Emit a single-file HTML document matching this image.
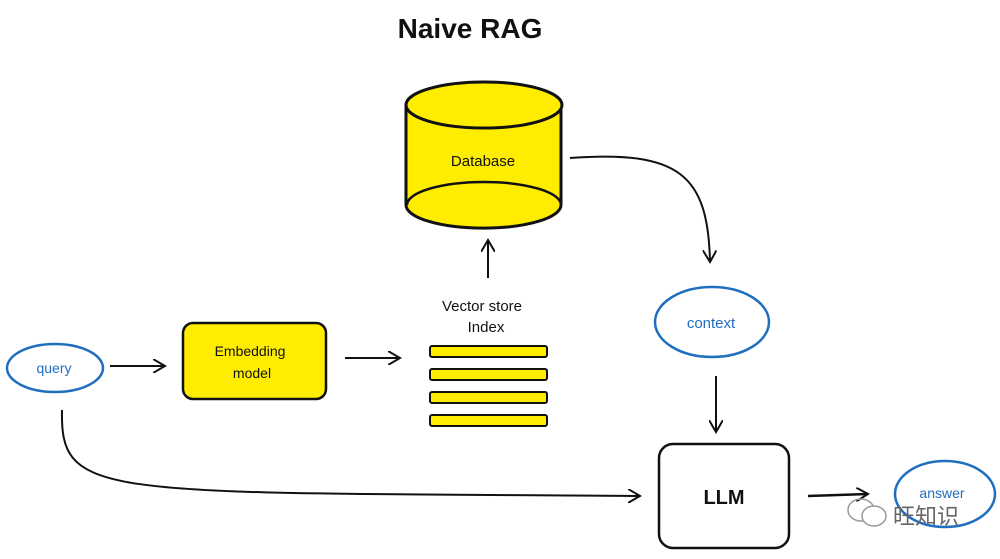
<!DOCTYPE html>
<html><head><meta charset="utf-8"><style>
html,body{margin:0;padding:0;background:#fff;}
svg{display:block}
text{font-family:"Liberation Sans","Noto Sans CJK SC",sans-serif}
</style></head><body>
<svg width="1000" height="559" viewBox="0 0 1000 559" xmlns="http://www.w3.org/2000/svg">
<defs><marker id="a" markerWidth="14" markerHeight="14" refX="12" refY="7" orient="auto" markerUnits="userSpaceOnUse"><path d="M0,0 L12,7 L0,14" fill="none" stroke="#111" stroke-width="2"/></marker></defs>
<text x="470" y="38" font-size="28" font-weight="bold" text-anchor="middle" fill="#111">Naive RAG</text>
<!-- database -->
<path d="M406,105 L406,205 A77,23 0 0 0 561,205 L561,105 Z" fill="#ffed00" stroke="#111" stroke-width="3"/>
<ellipse cx="484" cy="105" rx="78" ry="23" fill="#ffed00" stroke="#111" stroke-width="3"/>
<path d="M407,205 A77,23 0 0 1 561,205" fill="none" stroke="#111" stroke-width="2.5"/>
<text x="483" y="166" font-size="15" text-anchor="middle" fill="#111">Database</text>
<!-- arrows -->
<path d="M570,158 C680,150 708,175 710,262" fill="none" stroke="#111" stroke-width="2" marker-end="url(#a)"/>
<path d="M488,278 L488,240" fill="none" stroke="#111" stroke-width="2" marker-end="url(#a)"/>
<path d="M110,366 L165,366" fill="none" stroke="#111" stroke-width="2" marker-end="url(#a)"/>
<path d="M345,358 L400,358" fill="none" stroke="#111" stroke-width="2" marker-end="url(#a)"/>
<path d="M716,376 L716,432" fill="none" stroke="#111" stroke-width="2" marker-end="url(#a)"/>
<path d="M62,410 C60,500 100,492 640,496" fill="none" stroke="#111" stroke-width="2" marker-end="url(#a)"/>
<path d="M808,496 L868,494" fill="none" stroke="#111" stroke-width="2.5" marker-end="url(#a)"/>
<!-- query -->
<ellipse cx="55" cy="368" rx="48" ry="24" fill="none" stroke="#1f6fc0" stroke-width="2.5"/>
<text x="54" y="373" font-size="14" text-anchor="middle" fill="#1f6fc0">query</text>
<!-- embedding -->
<rect x="183" y="323" width="143" height="76" rx="10" fill="#ffed00" stroke="#111" stroke-width="2.5"/>
<text x="250" y="356" font-size="14" text-anchor="middle" fill="#111">Embedding</text>
<text x="252" y="378" font-size="14" text-anchor="middle" fill="#111">model</text>
<!-- vector store -->
<text x="482" y="311" font-size="15" text-anchor="middle" fill="#111">Vector store</text>
<text x="486" y="332" font-size="15" text-anchor="middle" fill="#111">Index</text>
<rect x="430" y="346" width="117" height="11" rx="2" fill="#ffed00" stroke="#111" stroke-width="2"/>
<rect x="430" y="369" width="117" height="11" rx="2" fill="#ffed00" stroke="#111" stroke-width="2"/>
<rect x="430" y="392" width="117" height="11" rx="2" fill="#ffed00" stroke="#111" stroke-width="2"/>
<rect x="430" y="415" width="117" height="11" rx="2" fill="#ffed00" stroke="#111" stroke-width="2"/>
<!-- context -->
<ellipse cx="712" cy="322" rx="57" ry="35" fill="none" stroke="#1f6fc0" stroke-width="2.5"/>
<text x="711" y="328" font-size="15" text-anchor="middle" fill="#1f6fc0">context</text>
<!-- LLM -->
<rect x="659" y="444" width="130" height="104" rx="14" fill="#fff" stroke="#111" stroke-width="2.5"/>
<text x="724" y="504" font-size="20" font-weight="bold" text-anchor="middle" fill="#111">LLM</text>
<!-- answer -->
<ellipse cx="945" cy="494" rx="50" ry="33" fill="none" stroke="#1f6fc0" stroke-width="2.5"/>
<text x="942" y="498" font-size="14" text-anchor="middle" fill="#1f6fc0">answer</text>
<!-- watermark -->
<ellipse cx="861" cy="510" rx="13" ry="11" fill="none" stroke="#999" stroke-width="1.5"/>
<ellipse cx="874" cy="516" rx="12" ry="10" fill="#fff" stroke="#999" stroke-width="1.5"/>
<text x="893" y="524" font-size="22" fill="#666">旺知识</text>
</svg>
</body></html>
